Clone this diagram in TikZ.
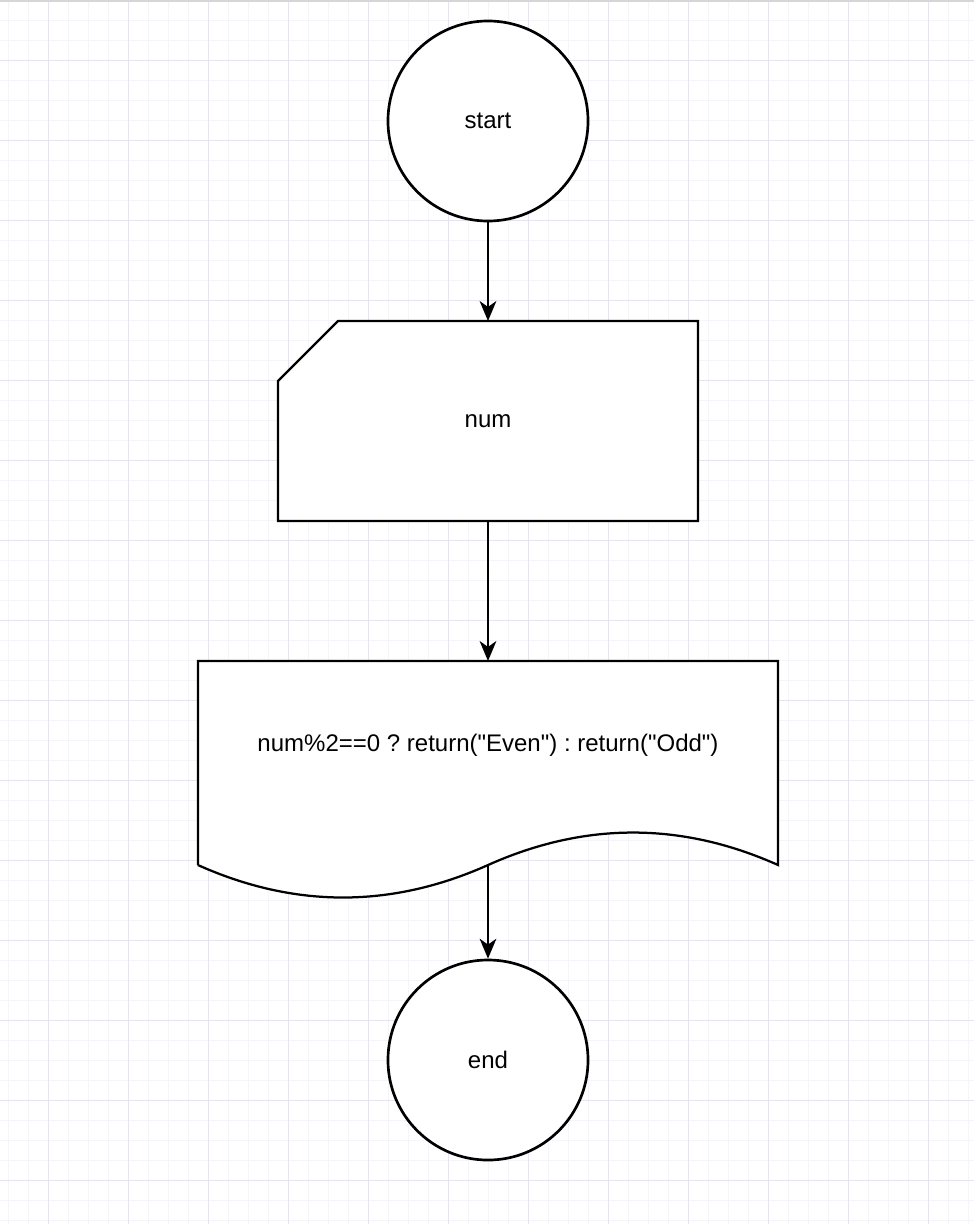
\documentclass[tikz,border=0pt]{standalone}
\usepackage{fontspec}
\setmainfont{Liberation Sans}[Ligatures=TeXOff]
\usetikzlibrary{arrows.meta}
\definecolor{gridminor}{HTML}{F5F3FE}
\definecolor{gridmajor}{HTML}{E6E2FB}
\definecolor{topbar}{HTML}{D6D6D6}
\tikzset{
  shapeline/.style={draw=black, line width=1.6pt, fill=white},
  startstop/.style={circle, shapeline, line width=1.9pt, minimum size=5cm, inner sep=0pt},
  holder/.style={inner sep=0pt, outer sep=0pt},
  flowarrow/.style={-{Stealth[length=0.5cm,width=0.42cm,inset=0.15cm]}, line width=1.1pt},
  txt/.style={font=\fontsize{17.07}{20}\selectfont\frenchspacing}
}
\begin{document}
\begin{tikzpicture}[x=0.025cm, y=-0.025cm]
    \useasboundingbox (0,0) rectangle (974,1224);
    % grid
    \fill[white] (0,0) rectangle (974,1224);
    \foreach \gx in {8,28,...,968} \draw[gridminor, line width=0.7pt] (\gx,0) -- (\gx,1224);
    \foreach \gy in {20,40,...,1220} \draw[gridminor, line width=0.7pt] (0,\gy) -- (974,\gy);
    \foreach \gx in {48,128,...,928} \draw[gridmajor, line width=0.7pt] (\gx,0) -- (\gx,1224);
    \foreach \gy in {60,140,...,1180} \draw[gridmajor, line width=0.7pt] (0,\gy) -- (974,\gy);
    \fill[topbar] (0,0) rectangle (974,2);

    % start / end
    \node (start) [startstop, txt] at (488,121) {start};
    \node (end) [startstop, txt] at (488,1060) {end};

    % input card
    \node (num) [holder, minimum width=10.5cm, minimum height=5cm] at (488,421) {};
    \draw[shapeline] (num.south west) -- (num.south east) -- (num.north east)
        -- ([xshift=1.5cm]num.north west) -- ([yshift=-1.5cm]num.north west) -- cycle;
    \node (numlbl) [txt] at (num) {num};

    % document
    \node (cond) [holder, minimum width=14.5cm, minimum height=5.1cm] at (488,763) {};
    \draw[shapeline] (cond.south west) -- (cond.north west) -- (cond.north east) -- (cond.south east)
        .. controls +(-96.7,-43.3) and +(96.7,-43.3) .. (cond.south)
        .. controls +(-96.7,43.3) and +(96.7,43.3) .. (cond.south west);
    \node (condlbl) [txt] at (488,745) {num\%2==0 ? return("Even") : return("Odd")};

    % connectors
    \draw[flowarrow] (start) -- (num);
    \draw[flowarrow] (num) -- (cond);
    \draw[flowarrow] (cond) -- (end);
\end{tikzpicture}
\end{document}
